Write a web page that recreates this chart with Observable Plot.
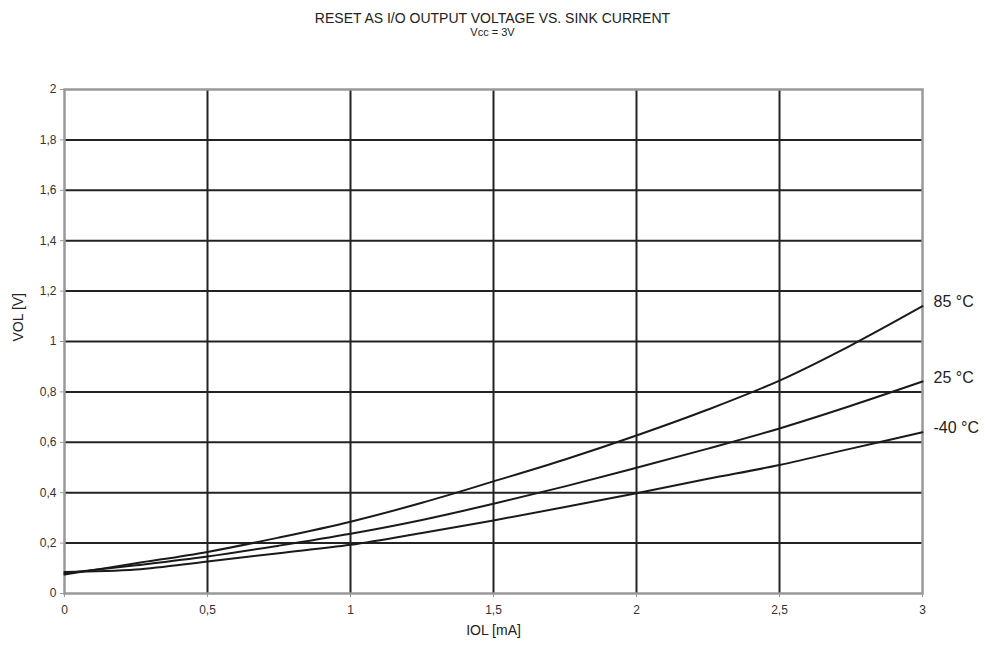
<!DOCTYPE html>
<html><head><meta charset="utf-8">
<script src="https://cdn.jsdelivr.net/npm/d3@7"></script>
<script src="https://cdn.jsdelivr.net/npm/@observablehq/plot@0.6"></script>
<style>
body{margin:0;background:#fff;font-family:"Liberation Sans",Arial,sans-serif;}
#title{height:40px;text-align:center;color:#222;}
#t1{font-size:14px;padding-top:10px;line-height:16px;}
#t2{font-size:11px;line-height:12px;}
</style></head>
<body>
<div id="title"><div id="t1">RESET AS I/O OUTPUT VOLTAGE VS. SINK CURRENT</div><div id="t2">Vcc = 3V</div></div>
<div id="chart"></div>
<script>
const currents = [0, 0.25, 0.5, 0.75, 1, 1.25, 1.5, 1.75, 2, 2.25, 2.5, 2.75, 3];
const v85 = [0.075, 0.12, 0.165, 0.222, 0.285, 0.36, 0.445, 0.532, 0.627, 0.73, 0.845, 0.985, 1.14];
const v25 = [0.08, 0.112, 0.147, 0.19, 0.237, 0.292, 0.356, 0.425, 0.499, 0.575, 0.655, 0.745, 0.841];
const vm40 = [0.085, 0.095, 0.127, 0.16, 0.193, 0.24, 0.29, 0.343, 0.398, 0.455, 0.51, 0.575, 0.64];
const seriesNames = ["85 °C", "25 °C", "-40 °C"];
const xTicks = [0, 0.5, 1, 1.5, 2, 2.5, 3];
const yTicks = [0, 0.2, 0.4, 0.6, 0.8, 1, 1.2, 1.4, 1.6, 1.8, 2];

const seriesVals = [v85, v25, vm40];
const data = [];
seriesNames.forEach((s, i) => currents.forEach((c, j) => data.push({s, x: c, y: seriesVals[i][j]})));
const ends = seriesNames.map((s, i) => ({s, x: currents[currents.length - 1], y: seriesVals[i][currents.length - 1]}));
const fmt = d => String(d).replace(".", ",");

const chart = Plot.plot({
  width: 985, height: 608,
  marginTop: 49, marginBottom: 55, marginLeft: 64, marginRight: 63,
  style: {fontFamily: "'Liberation Sans', Arial, sans-serif", fontSize: "12px", color: "#333", background: "#fff"},
  x: {domain: [0, 3], ticks: xTicks, tickFormat: fmt, label: null, tickSize: 4, tickPadding: 8},
  y: {domain: [0, 2], ticks: yTicks, tickFormat: fmt, label: null, tickSize: 4, tickPadding: 4},
  marks: [
    Plot.gridX(xTicks.slice(1, -1), {stroke: "#222", strokeOpacity: 1, strokeWidth: 2}),
    Plot.gridY(yTicks.slice(1, -1), {stroke: "#222", strokeOpacity: 1, strokeWidth: 2}),
    Plot.frame({stroke: "#999", strokeWidth: 2.5}),
    Plot.axisX({ticks: xTicks, tickFormat: fmt, stroke: "#999", tickSize: 4, tickPadding: 8, label: null, fontSize: 12}),
    Plot.axisY({ticks: yTicks, tickFormat: fmt, stroke: "#999", tickSize: 4, tickPadding: 4, label: null, fontSize: 12}),
    Plot.line(data, {x: "x", y: "y", z: "s", stroke: "#1a1a1a", strokeWidth: 2, curve: "catmull-rom"}),
    Plot.text(ends, {x: "x", y: "y", text: "s", dx: 11, dy: -4, textAnchor: "start", fontSize: 16, fill: "#222"}),
    Plot.text(["IOL [mA]"], {frameAnchor: "bottom", dy: 41, fontSize: 14, fill: "#222"}),
    Plot.text(["VOL [V]"], {frameAnchor: "left", dx: -46, rotate: -90, fontSize: 14, fill: "#222"})
  ]
});
document.getElementById("chart").appendChild(chart);
</script>
</body></html>
